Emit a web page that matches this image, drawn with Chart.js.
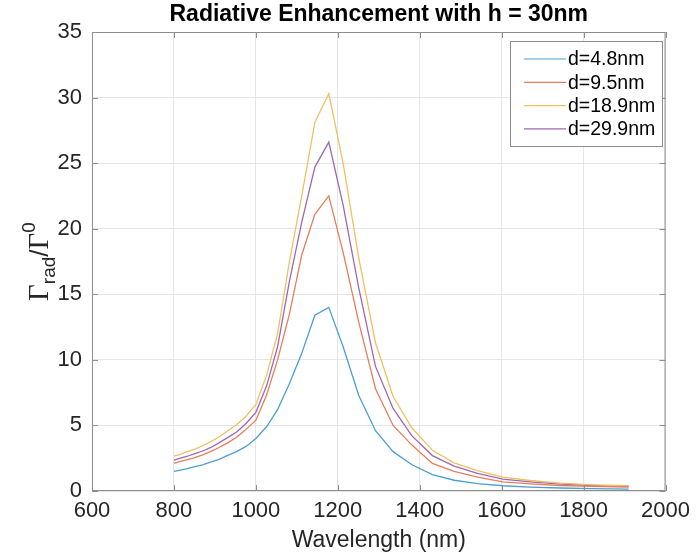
<html>
  <head>
    <title>Radiative Enhancement with h = 30nm</title>
    <script src="https://cdn.jsdelivr.net/npm/chart.js"></script>
    <style>
      body {
        margin: 0;
        padding: 0;
        background-color: white;
      }
      #chartBox {
        width: 697px;
        height: 554px;
      }
    </style>
  </head>
  <body>
    <div id="chartBox">
      <canvas id="enhChart" width="697" height="554"></canvas>
    </div>

    <script>
      // wavelength samples (nm)
      const wavelengths = [800, 816, 833, 851, 870, 889, 909, 930, 953, 976, 1000, 1026, 1053, 1082, 1112,
                           1144, 1178, 1213, 1251, 1292, 1335, 1381, 1431, 1484, 1541, 1603, 1670, 1743, 1823, 1910];

      // Gamma_rad / Gamma_0 for each spacer thickness d
      const d48  = [1.5, 1.6, 1.7, 1.85, 2.0, 2.2, 2.4, 2.7, 3.0, 3.4, 4.0, 4.9, 6.2, 8.2, 10.5,
                    13.4, 14.0, 11.0, 7.3, 4.6, 3.0, 2.0, 1.25, 0.82, 0.56, 0.4, 0.3, 0.23, 0.18, 0.14];
      const d95  = [2.1, 2.25, 2.4, 2.55, 2.75, 3.0, 3.3, 3.65, 4.1, 4.7, 5.4, 7.3, 10.0, 13.5, 18.0,
                    21.1, 22.5, 18.2, 12.9, 7.8, 5.0, 3.5, 2.1, 1.5, 1.05, 0.7, 0.55, 0.42, 0.35, 0.3];
      const d189 = [2.65, 2.8, 3.0, 3.2, 3.45, 3.75, 4.1, 4.55, 5.05, 5.7, 6.6, 8.8, 12.0, 17.5, 22.5,
                    28.1, 30.3, 25.0, 17.8, 11.3, 7.2, 4.8, 3.1, 2.15, 1.55, 1.05, 0.8, 0.6, 0.47, 0.4];
      const d299 = [2.35, 2.5, 2.65, 2.85, 3.05, 3.3, 3.65, 4.05, 4.5, 5.15, 6.0, 8.0, 11.0, 16.0, 20.5,
                    24.7, 26.6, 21.8, 15.5, 9.5, 6.3, 4.2, 2.7, 1.9, 1.35, 0.9, 0.7, 0.52, 0.42, 0.35];

      const seriesLabels = ['d=4.8nm', 'd=9.5nm', 'd=18.9nm', 'd=29.9nm'];
      const seriesValues = [d48, d95, d189, d299];
      // MATLAB default order, a little washed out like the picture
      const seriesColors = ['#4b9fd5', '#e57e5a', '#f0c060', '#9d68b0'];

      const xTicks = [600, 800, 1000, 1200, 1400, 1600, 1800, 2000];
      const yTicks = [0, 5, 10, 15, 20, 25, 30, 35];

      const chartTitle = 'Radiative Enhancement with h = 30nm';
      const sans = 'Liberation Sans, Arial, Helvetica, sans-serif';
      const serif = 'Liberation Serif, Times New Roman, serif';

      // MATLAB-like box, inside ticks, title, legend and the Gamma y-label
      const matlabAxes = {
        id: 'matlabAxes',
        afterDatasetsDraw(chart) {
          const ctx = chart.ctx;
          const a = chart.chartArea;
          const xs = chart.scales.x;
          const ys = chart.scales.y;
          const tl = 6;

          ctx.save();
          ctx.strokeStyle = '#8c8c8c';
          ctx.lineWidth = 1;
          ctx.strokeRect(a.left + 0.5, a.top + 0.5, a.right - a.left - 1, a.bottom - a.top - 1);

          ctx.beginPath();
          xTicks.forEach(v => {
            const px = Math.round(xs.getPixelForValue(v)) + 0.5;
            ctx.moveTo(px, a.bottom); ctx.lineTo(px, a.bottom - tl);
            ctx.moveTo(px, a.top); ctx.lineTo(px, a.top + tl);
          });
          yTicks.forEach(v => {
            const py = Math.round(ys.getPixelForValue(v)) + 0.5;
            ctx.moveTo(a.left, py); ctx.lineTo(a.left + tl, py);
            ctx.moveTo(a.right, py); ctx.lineTo(a.right - tl, py);
          });
          ctx.stroke();

          // title, centred over the axes like MATLAB does
          ctx.fillStyle = '#000';
          ctx.font = 'bold 23px ' + sans;
          ctx.textAlign = 'center';
          ctx.textBaseline = 'middle';
          ctx.fillText(chartTitle, (a.left + a.right) / 2, 15);

          // legend box
          const lx = 510, ly = 41, lw = 152, lh = 105;
          ctx.fillStyle = 'white';
          ctx.fillRect(lx, ly, lw, lh);
          ctx.strokeStyle = '#8c8c8c';
          ctx.strokeRect(lx + 0.5, ly + 0.5, lw, lh);
          ctx.font = '19.5px ' + sans;
          ctx.textBaseline = 'middle';
          ctx.textAlign = 'left';
          chart.data.datasets.forEach((ds, i) => {
            const yy = ly + 18 + i * 23.3;
            ctx.strokeStyle = ds.borderColor;
            ctx.lineWidth = 1.2;
            ctx.beginPath();
            ctx.moveTo(lx + 14, yy);
            ctx.lineTo(lx + 56, yy);
            ctx.stroke();
            ctx.fillStyle = '#000';
            ctx.fillText(ds.label, lx + 58, yy + 1);
          });

          // y label: Gamma_rad / Gamma^0, rotated
          const parts = [
            { t: '\u0393', f: '29px ' + serif, dy: 0 },
            { t: 'rad', f: '19px ' + sans, dy: 7 },
            { t: '/', f: '26px ' + sans, dy: 0 },
            { t: '\u0393', f: '29px ' + serif, dy: 0 },
            { t: '0', f: '19px ' + sans, dy: -13 }
          ];
          ctx.fillStyle = '#262626';
          ctx.textBaseline = 'alphabetic';
          let total = 0;
          parts.forEach(p => { ctx.font = p.f; p.w = ctx.measureText(p.t).width; total += p.w; });
          ctx.translate(48, (a.top + a.bottom) / 2);
          ctx.rotate(-Math.PI / 2);
          let cx = -total / 2;
          parts.forEach(p => {
            ctx.font = p.f;
            ctx.fillText(p.t, cx, p.dy);
            cx += p.w;
          });
          ctx.restore();
        }
      };

      const datasets = seriesValues.map((vals, i) => ({
        label: seriesLabels[i],
        data: wavelengths.map((w, k) => ({ x: w, y: vals[k] })),
        borderColor: seriesColors[i],
        backgroundColor: seriesColors[i],
        borderWidth: 1.3,
        pointRadius: 0,
        tension: 0,
        fill: false
      }));

      const ctx = document.getElementById('enhChart').getContext('2d');
      const enhChart = new Chart(ctx, {
        type: 'line',
        data: { datasets: datasets },
        options: {
          responsive: false,
          animation: false,
          devicePixelRatio: 1,
          layout: { padding: { left: 0, right: 26, top: 32, bottom: 0 } },
          plugins: {
            legend: { display: false },
            tooltip: { enabled: false },
            title: { display: false }
          },
          scales: {
            x: {
              type: 'linear',
              min: 600,
              max: 2000,
              afterFit: s => { s.height = 63; },
              afterBuildTicks: s => { s.ticks = xTicks.map(v => ({ value: v })); },
              ticks: {
                color: '#262626',
                font: { size: 22, family: sans },
                padding: 7,
                maxRotation: 0,
                callback: v => String(v)
              },
              grid: { color: '#e6e6e6', drawTicks: false },
              border: { display: false },
              title: {
                display: true,
                text: 'Wavelength (nm)',
                color: '#262626',
                font: { size: 23, family: sans },
                padding: { top: 0, bottom: 0 }
              }
            },
            y: {
              min: 0,
              max: 35,
              afterFit: s => { s.width = 92; },
              afterBuildTicks: s => { s.ticks = yTicks.map(v => ({ value: v })); },
              ticks: {
                color: '#262626',
                font: { size: 22, family: sans },
                padding: 10,
                callback: v => String(v)
              },
              grid: { color: '#e6e6e6', drawTicks: false },
              border: { display: false }
            }
          }
        },
        plugins: [matlabAxes]
      });
    </script>
  </body>
</html>
